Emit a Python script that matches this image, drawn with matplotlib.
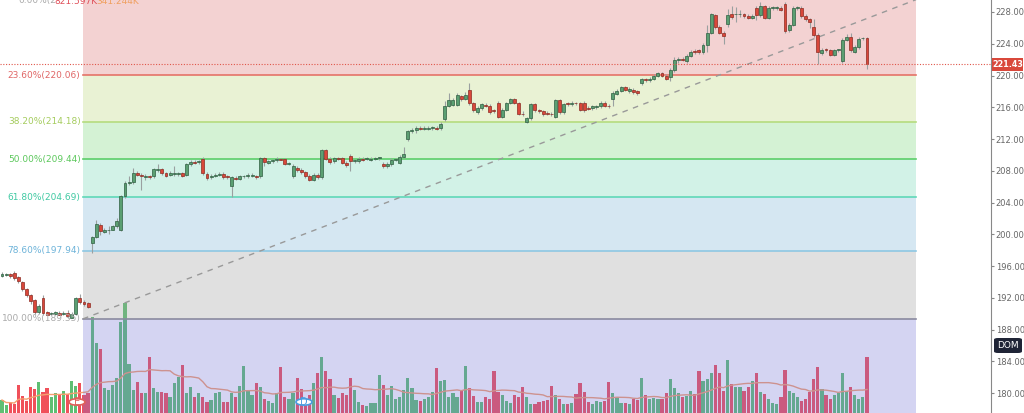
import numpy as np
import matplotlib
matplotlib.use("Agg")
import matplotlib.pyplot as plt
from matplotlib.patches import Circle, FancyBboxPatch

# ---------------- data ----------------
opens = [194.8,194.9,195.0,195.1,194.6,194.0,193.1,192.3,191.7,190.2,192.0,190.2,190.0,190.0,190.1,190.0,190.1,189.5,190.0,192.0,
 191.5,191.3,198.9,199.7,201.2,200.3,200.5,200.6,201.0,200.6,204.8,206.5,206.6,207.7,207.5,207.2,207.3,207.3,208.1,208.2,
 207.7,207.5,207.6,207.6,207.7,207.5,208.8,209.1,209.1,209.5,207.6,207.2,207.4,207.5,207.6,207.3,206.1,207.1,207.0,207.3,
 207.3,207.4,207.3,207.3,209.6,209.0,209.2,209.3,209.5,209.5,208.9,207.3,208.4,208.1,207.8,207.4,206.9,207.5,207.2,210.6,
 209.5,209.2,209.6,209.6,209.0,209.9,209.2,209.2,209.5,209.5,209.4,209.5,209.6,208.9,208.6,208.8,209.4,209.0,209.8,212.0,
 213.0,213.2,213.4,213.3,213.3,213.4,213.4,213.4,
 214.5,216.1,216.3,216.3,217.4,217.1,218.2,216.5,215.4,215.9,216.3,216.2,215.6,216.6,214.8,215.7,216.6,217.0,216.5,215.2,
 214.2,214.6,216.4,215.6,215.5,215.3,215.2,214.8,216.9,215.4,216.5,216.4,216.6,216.5,216.6,215.9,215.9,216.0,216.1,216.6,
 216.2,217.0,217.7,218.1,218.5,218.0,218.2,218.0,219.0,219.5,219.4,219.6,220.0,220.3,220.0,219.8,220.7,
 222.0,222.1,221.8,222.5,223.1,223.2,222.9,223.9,225.4,227.6,226.1,225.4,226.5,227.7,227.7,227.7,227.7,227.5,227.3,228.5,
 227.6,228.7,227.3,228.5,228.5,228.5,229.0,225.7,226.4,228.5,228.5,227.5,227.1,226.1,225.1,222.8,223.3,223.2,222.6,223.2,
 221.8,224.5,224.9,223.0,223.6,224.7,224.7]
closes = [195.0,194.9,194.7,194.5,194.1,193.1,192.3,191.6,190.2,191.0,190.1,189.9,190.0,190.2,189.9,190.1,189.7,190.0,192.0,191.5,
 191.2,190.9,199.6,201.3,200.4,200.6,200.6,201.0,201.7,204.8,206.5,206.6,207.7,207.5,207.3,207.3,207.2,208.2,208.2,207.7,
 207.4,207.7,207.6,207.7,207.4,208.8,209.1,209.0,209.2,207.7,207.1,207.4,207.5,207.6,207.2,207.2,207.2,207.0,207.3,207.3,
 207.5,207.5,207.2,209.6,209.1,209.2,209.3,209.5,209.4,208.9,208.9,208.6,208.1,207.8,207.3,206.9,207.5,207.2,210.6,209.5,
 209.1,209.6,209.5,209.0,208.7,209.2,209.3,209.5,209.4,209.5,209.5,209.6,209.6,208.6,208.9,209.4,209.4,209.8,210.1,213.0,
 213.2,213.4,213.3,213.4,213.4,213.4,213.3,213.9,
 216.1,216.9,216.9,217.5,217.0,217.6,216.5,215.6,215.9,216.4,216.2,215.4,215.5,214.8,215.7,216.5,217.0,216.6,215.2,215.1,
 214.6,216.4,215.6,215.5,215.1,215.2,215.1,216.9,215.4,216.4,216.4,216.6,216.5,215.7,215.6,215.8,216.1,216.1,216.6,216.2,
 216.1,217.8,218.1,218.5,218.2,218.3,217.9,217.8,219.5,219.4,219.6,220.0,220.3,220.0,219.6,220.7,222.0,
 222.1,222.0,222.5,223.0,222.9,222.9,223.9,225.4,227.7,226.1,225.4,225.0,227.6,227.4,227.7,227.7,227.5,227.3,227.5,227.6,
 228.7,227.3,228.5,228.5,228.5,228.3,225.6,226.4,228.5,228.5,227.5,227.1,226.8,225.1,222.9,223.2,223.2,222.6,223.2,223.2,
 224.5,224.8,223.2,223.6,224.6,224.7,221.43]
highs = [195.2,195.1,195.1,195.4,194.8,194.1,193.3,192.5,191.9,191.2,192.4,190.4,190.2,190.4,190.3,190.3,190.5,190.2,192.1,192.5,
 191.7,191.5,199.8,201.8,201.4,200.8,201.0,201.2,202.0,205.0,206.7,207.3,208.3,208.0,207.7,207.6,207.5,208.4,208.8,208.4,
 207.9,208.0,208.6,207.9,207.9,209.0,209.3,209.3,209.4,209.7,207.8,207.6,207.7,207.8,207.8,207.5,207.4,207.3,207.5,207.5,
 207.7,207.7,207.5,209.8,209.8,209.4,209.5,209.7,209.6,209.6,209.1,208.8,208.6,208.3,208.0,207.6,207.7,207.7,210.8,210.8,
 209.7,209.8,209.8,209.8,209.2,210.1,209.5,209.7,209.7,209.7,209.7,209.8,209.8,209.1,209.1,209.6,209.6,210.0,211.0,213.2,
 213.4,213.6,213.6,213.6,213.6,213.6,213.6,214.1,
 216.8,217.8,217.2,217.8,217.6,217.9,219.1,216.7,216.1,216.6,216.5,216.4,215.8,216.8,215.9,216.7,217.2,217.2,216.7,215.5,
 214.8,216.6,216.6,215.8,215.7,215.5,215.4,217.1,217.1,216.6,216.7,216.8,216.7,216.7,216.8,216.1,216.3,216.3,216.8,216.8,
 216.4,218.0,218.3,218.7,218.7,218.5,218.4,218.2,219.7,219.7,219.8,220.2,220.5,220.5,220.2,220.9,222.3,
 222.3,222.3,222.7,223.2,223.3,223.4,224.1,226.4,227.9,227.8,226.3,225.6,228.4,228.8,228.6,228.3,227.9,227.7,227.7,228.8,
 229.2,228.9,228.7,228.8,228.8,228.7,229.3,226.6,228.7,228.7,228.7,227.7,227.3,227.1,225.3,223.5,223.5,223.4,223.4,223.4,
 224.7,225.2,225.3,223.8,224.8,224.9,224.8]
lows = [194.6,194.7,194.5,194.3,193.9,192.9,192.1,191.2,190.0,190.0,189.9,189.8,189.8,189.9,189.8,189.9,189.5,189.4,189.8,191.2,
 191.0,190.7,197.6,199.5,199.9,200.2,200.0,200.5,200.8,200.4,204.6,206.2,206.4,207.3,205.6,206.9,207.0,207.1,207.9,207.5,
 207.2,207.3,207.4,207.4,207.2,207.4,208.6,208.8,208.9,207.5,206.9,207.0,207.2,207.3,207.0,207.0,204.7,206.8,206.8,207.1,
 207.1,207.2,207.0,207.1,208.6,208.8,209.0,209.1,209.3,208.7,208.7,207.1,207.9,207.6,207.1,206.7,206.7,207.0,207.0,209.3,
 208.9,209.0,209.3,208.8,208.5,208.0,209.0,209.0,209.2,209.3,209.2,209.3,209.4,208.4,208.4,208.6,209.2,208.8,209.6,211.8,
 212.8,212.8,213.1,213.1,213.1,213.2,213.1,213.2,
 214.3,216.0,216.1,216.1,216.8,216.9,216.3,215.4,215.2,215.7,216.0,215.2,215.3,214.6,214.6,215.5,216.4,216.4,215.0,214.9,
 214.0,214.4,215.4,215.3,214.9,215.0,214.9,214.6,215.2,215.2,216.2,216.2,216.3,215.5,215.4,215.6,215.7,215.8,215.9,216.0,
 215.9,216.2,217.5,217.9,218.0,217.8,217.7,217.6,218.8,219.2,219.2,219.4,219.8,219.8,219.4,219.3,220.5,
 221.6,221.8,221.6,222.3,222.7,222.7,222.7,223.0,225.2,225.9,225.2,224.0,226.1,227.1,226.8,227.4,227.3,227.1,227.1,227.0,
 227.4,227.1,227.1,228.3,228.3,228.1,225.4,225.5,226.2,228.3,227.3,226.9,226.0,224.9,221.5,222.6,223.0,222.4,222.4,223.0,
 221.6,224.3,223.0,222.8,223.4,224.5,220.8]
volumes = [13,8,10,9,28,17,12,26,24,31,21,25,16,20,18,22,19,32,27,
 30,18,20,96,70,64,25,23,28,35,91,110,49,23,31,20,20,56,25,21,21,20,16,30,36,48,20,26,16,20,16,11,13,20,21,11,11,20,16,27,
 47,22,18,30,26,14,12,10,20,46,16,14,20,35,24,12,18,30,40,
 56,42,34,18,15,20,18,35,23,11,8,7,10,10,38,28,18,27,14,16,23,35,25,13,12,14,16,21,45,32,
 33,16,20,16,23,47,25,17,11,11,16,14,42,21,18,12,10,18,16,26,16,9,9,11,12,13,27,18,14,9,
 9,10,19,30,21,11,9,12,11,12,31,20,16,10,
 10,9,14,13,35,18,14,15,14,14,20,34,25,20,16,17,22,19,42,32,
 34,40,48,40,22,53,29,26,26,22,26,32,40,21,19,14,10,9,16,43,
 22,20,16,12,14,21,34,46,24,18,14,18,20,40,22,26,18,14,16,56]
fib_ratios = ["0.00%", "23.60%", "38.20%", "50.00%", "61.80%", "78.60%", "100.00%"]
fib_prices = [229.55, 220.06, 214.18, 209.44, 204.69, 197.94, 189.35]
last_price = 221.43
price_ticks = [180, 184, 188, 192, 196, 200, 204, 208, 212, 216, 220, 224, 228]

n = len(closes)
assert len(opens) == n == len(highs) == len(lows)
vol = np.array(volumes[:n] + [12] * max(0, n - len(volumes)), dtype=float)

W, H = 1024, 413
fig = plt.figure(figsize=(W / 100, H / 100), dpi=100)
fig.patch.set_facecolor("white")
axw = 991 / W
sp = 865 / (n - 1)
x0 = -2 / sp
x1 = x0 + 991 / sp
ylo = 228 - 401 / 7.94
yhi = 228 + 12 / 7.94
def px2i(px):
    return (px - 2) / sp

vax = fig.add_axes([0, 0, axw, 1], zorder=0)
ax = fig.add_axes([0, 0, axw, 1], zorder=1)
ax.patch.set_alpha(0)
idx = np.arange(n)
up = np.array(closes) >= np.array(opens)

vax.bar(idx, vol, width=0.78, color=np.where(up, "#5fbf73", "#f0505a"), linewidth=0)
ma = np.convolve(vol, np.ones(20) / 20, mode="full")[:n]
cnt = np.minimum(np.arange(1, n + 1), 20)
ma = ma * 20 / cnt
vax.plot(idx, ma, color="#f5a070", lw=1)
vax.set_xlim(x0, x1)
vax.set_ylim(0, 413)
vax.axis("off")

zcol = ["#da6c6c", "#b9d773", "#73d473", "#6cd7b2", "#76b2d7", "#9b9b9b", "#7373d7"]
lcol = ["#e57368", "#e57368", "#b5dc7e", "#5ccf6a", "#5fd8b8", "#8ec7e3", "#8a8aa0"]
tcol = ["#e06666", "#e06666", "#a5cc5e", "#5cc85c", "#3fc9a2", "#6db3d9", "#aaaaaa"]
fa, fb = px2i(83), px2i(916)
for k in range(1, 7):
    top = fib_prices[k - 1] if k > 1 else yhi + 1
    ax.fill_between([fa, fb], fib_prices[k], top, color=zcol[k - 1], alpha=0.3, lw=0, zorder=1)
    ax.plot([fa, fb], [fib_prices[k]] * 2, color=lcol[k], lw=1.2, zorder=2)
    ax.text(fa - 0.6, fib_prices[k], f"{fib_ratios[k]}({fib_prices[k]:.2f})", ha="right", va="center",
            fontsize=6.5, color=tcol[k], zorder=5)
ax.fill_between([fa, fb], ylo - 2, fib_prices[6], color=zcol[6], alpha=0.3, lw=0, zorder=1)
ax.plot([fa, fb], [fib_prices[6], fib_prices[0]], color="#999999", lw=1, ls=(0, (4, 4)), zorder=2)

for i in range(n):
    o, c, h, l = opens[i], closes[i], highs[i], lows[i]
    face = "#5b9f72" if up[i] else "#d9473a"
    edge = "#2f5e41" if up[i] else "#8c2b22"
    ax.vlines(i, l, h, color="#9aa0a0", lw=0.8, zorder=3)
    b = min(o, c); ht = max(abs(c - o), 0.08)
    ax.bar(i, ht, bottom=b, width=0.72, color=face, edgecolor=edge, lw=0.5, zorder=4)

ax.axhline(last_price, color="#e0564a", lw=0.8, ls=(0, (1, 1.5)), zorder=5)
ax.set_xlim(x0, x1)
ax.set_ylim(ylo, yhi)
for s in ["top", "left", "bottom"]:
    ax.spines[s].set_visible(False)
ax.spines["right"].set_color("#888888")
ax.yaxis.tick_right()
ax.set_yticks(price_ticks)
ax.set_yticklabels([f"{t:.2f}" for t in price_ticks])
ax.tick_params(axis="y", colors="#888888", labelcolor="#666666", labelsize=6, length=2, pad=1.5)
ax.set_xticks([])

def fx(px): return px / W
def fy(py): return 1 - py / H
fig.patches.append(FancyBboxPatch((fx(992), fy(71)), 31 / W, 13 / H, boxstyle="square,pad=0",
                                  transform=fig.transFigure, fc="#d9483b", ec="none"))
fig.text(fx(1007.5), fy(64.5), f"{last_price:.2f}", color="white", fontsize=5.8, ha="center", va="center", weight="bold")
fig.patches.append(FancyBboxPatch((fx(994), fy(353)), 28 / W, 15 / H, boxstyle="round,pad=0,rounding_size=0.004",
                                  transform=fig.transFigure, fc="#1f2436", ec="none"))
fig.text(fx(1008), fy(345.5), "DOM", color="white", fontsize=6.5, ha="center", va="center")
for cx, letter, colr in [(77, "E", "#e0605a"), (304, "D", "#4a9de0")]:
    fig.patches.append(Circle((fx(cx), fy(402)), 8 / W, transform=fig.transFigure, fc="white", ec=colr, lw=1.2,
                              zorder=10))
    fig.text(fx(cx), fy(402), letter, color=colr, fontsize=7, ha="center", va="center", zorder=11)
fig.text(fx(18), fy(1), "0.00%(2", color="#aaaaaa", fontsize=6.5, ha="left", va="center")
fig.text(fx(54), fy(1), "821.597K", color="#e0505a", fontsize=6.5, ha="left", va="center")
fig.text(fx(96), fy(1), "341.244K", color="#f0a060", fontsize=6.5, ha="left", va="center")

fig.savefig("out.png", dpi=100)
